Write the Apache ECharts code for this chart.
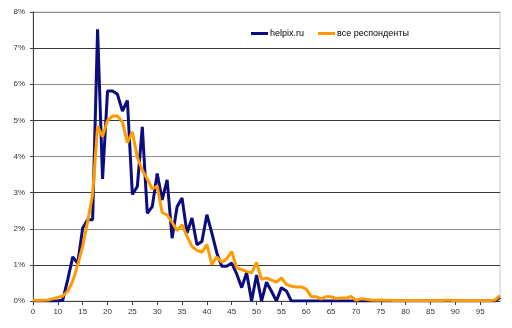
<!DOCTYPE html>
<html>
<head>
<meta charset="utf-8">
<script src="https://cdn.jsdelivr.net/npm/echarts@6/dist/echarts.min.js"></script>
<style>
html,body{margin:0;padding:0;background:#fff;}
#chart{width:512px;height:328px;}
</style>
</head>
<body>
<div id="chart"></div>
<script>
const categories = ["0","6","7","8","9","10","11","12","13","14","15","16","17","18","19","20","21","22","23","24","25","26","27","28","29","30","31","32","33","34","35","36","37","38","39","40","41","42","43","44","45","46","47","48","49","50","51","52","53","54","55","56","57","58","59","60","61","62","63","64","65","66","67","68","69","70","71","72","73","74","75","76","77","78","79","80","81","82","83","84","85","86","87","88","89","90","91","92","93","94","95","96","97","98","99"];

// first value is category "0", then ages 6-9, then one row per decade
const helpixValues = [0,
  0,0,0,0,
  0,0.03,0.6,1.22,1.04,2.02,2.25,2.25,7.52,3.38,
  5.81,5.81,5.72,5.26,5.55,2.95,3.17,4.82,2.43,2.61,
  3.53,2.8,3.35,1.74,2.61,2.85,1.88,2.3,1.56,1.65,
  2.39,1.88,1.33,0.96,0.96,1.05,0.75,0.37,0.78,0,
  0.72,0,0.52,0.27,0,0.37,0.28,0,0,0,
  0,0,0,0,0,0,0,0,0,0,
  0,0,0,0,0,0,0,0,0,0,
  0,0,0,0,0,0,0,0,0,0,
  0,0,0,0,0,0,0,0,0,0.1];

const allValues = [0.02,
  0.02,0.02,0.03,0.06,
  0.1,0.14,0.27,0.55,1.0,1.52,2.2,2.95,4.84,4.55,
  5.0,5.12,5.12,4.95,4.38,4.68,3.98,3.62,3.38,3.1,
  3.18,2.45,2.38,2.18,1.95,2.11,1.79,1.51,1.4,1.35,
  1.56,1.01,1.22,1.07,1.17,1.37,0.92,0.87,0.82,0.78,
  1.07,0.6,0.64,0.58,0.52,0.64,0.46,0.41,0.39,0.39,
  0.33,0.12,0.12,0.06,0.12,0.12,0.07,0.08,0.08,0.13,
  0.02,0.06,0.05,0.03,0.02,0.03,0.02,0.02,0.01,0.01,
  0.01,0.01,0.02,0.01,0.01,0.01,0.01,0.01,0.02,0.02,
  0.01,0.01,0.01,0.01,0.01,0.01,0.01,0.01,0.03,0.15];

const seriesNames = ["helpix.ru", "все респонденты"];
const yTicks = [0,1,2,3,4,5,6,7,8];

const chart = echarts.init(document.getElementById('chart'), null, {renderer:'canvas'});
const font = "'Liberation Sans', Arial, sans-serif";
chart.setOption({
  animation: false,
  backgroundColor: '#ffffff',
  textStyle: {fontFamily: font},
  grid: {left: 33, right: 12, top: 12, bottom: 27, show: true, borderColor: '#c8c8c8', borderWidth: 1},
  legend: {
    left: 251, top: 29, padding: 0, itemGap: 14,
    itemWidth: 17, itemHeight: 3, icon: 'rect',
    textStyle: {fontSize: 9, color: '#000', fontFamily: font, padding: [0, 0, 0, -3]},
    data: seriesNames
  },
  xAxis: {
    type: 'category',
    data: categories,
    boundaryGap: false,
    axisLine: {lineStyle: {color: '#404040', width: 1}},
    axisTick: {show: true, length: 4, interval: (i) => i % 5 === 0, lineStyle: {color: '#404040'}},
    axisLabel: {interval: (i) => i % 5 === 0, fontSize: 8, color: '#333', margin: 7, fontFamily: font},
    splitLine: {show: false}
  },
  yAxis: {
    type: 'value',
    min: yTicks[0], max: yTicks[yTicks.length-1], interval: 1,
    axisLine: {show: true, lineStyle: {color: '#404040', width: 1}},
    axisTick: {show: true, length: 3, lineStyle: {color: '#404040'}},
    axisLabel: {formatter: '{value}%', fontSize: 8, color: '#333', margin: 8, fontFamily: font},
    splitLine: {show: true, lineStyle: {color: ['#8c8c8c', '#3a3a3a'], width: 1}}
  },
  series: [
    {name: seriesNames[0], type: 'line', data: helpixValues, showSymbol: false, symbol: 'none',
     lineStyle: {color: '#0c0c80', width: 3}, itemStyle: {color: '#0c0c80'}},
    {name: seriesNames[1], type: 'line', data: allValues, showSymbol: false, symbol: 'none',
     lineStyle: {color: '#ff9a00', width: 3}, itemStyle: {color: '#ff9a00'}}
  ]
});
</script>
</body>
</html>
